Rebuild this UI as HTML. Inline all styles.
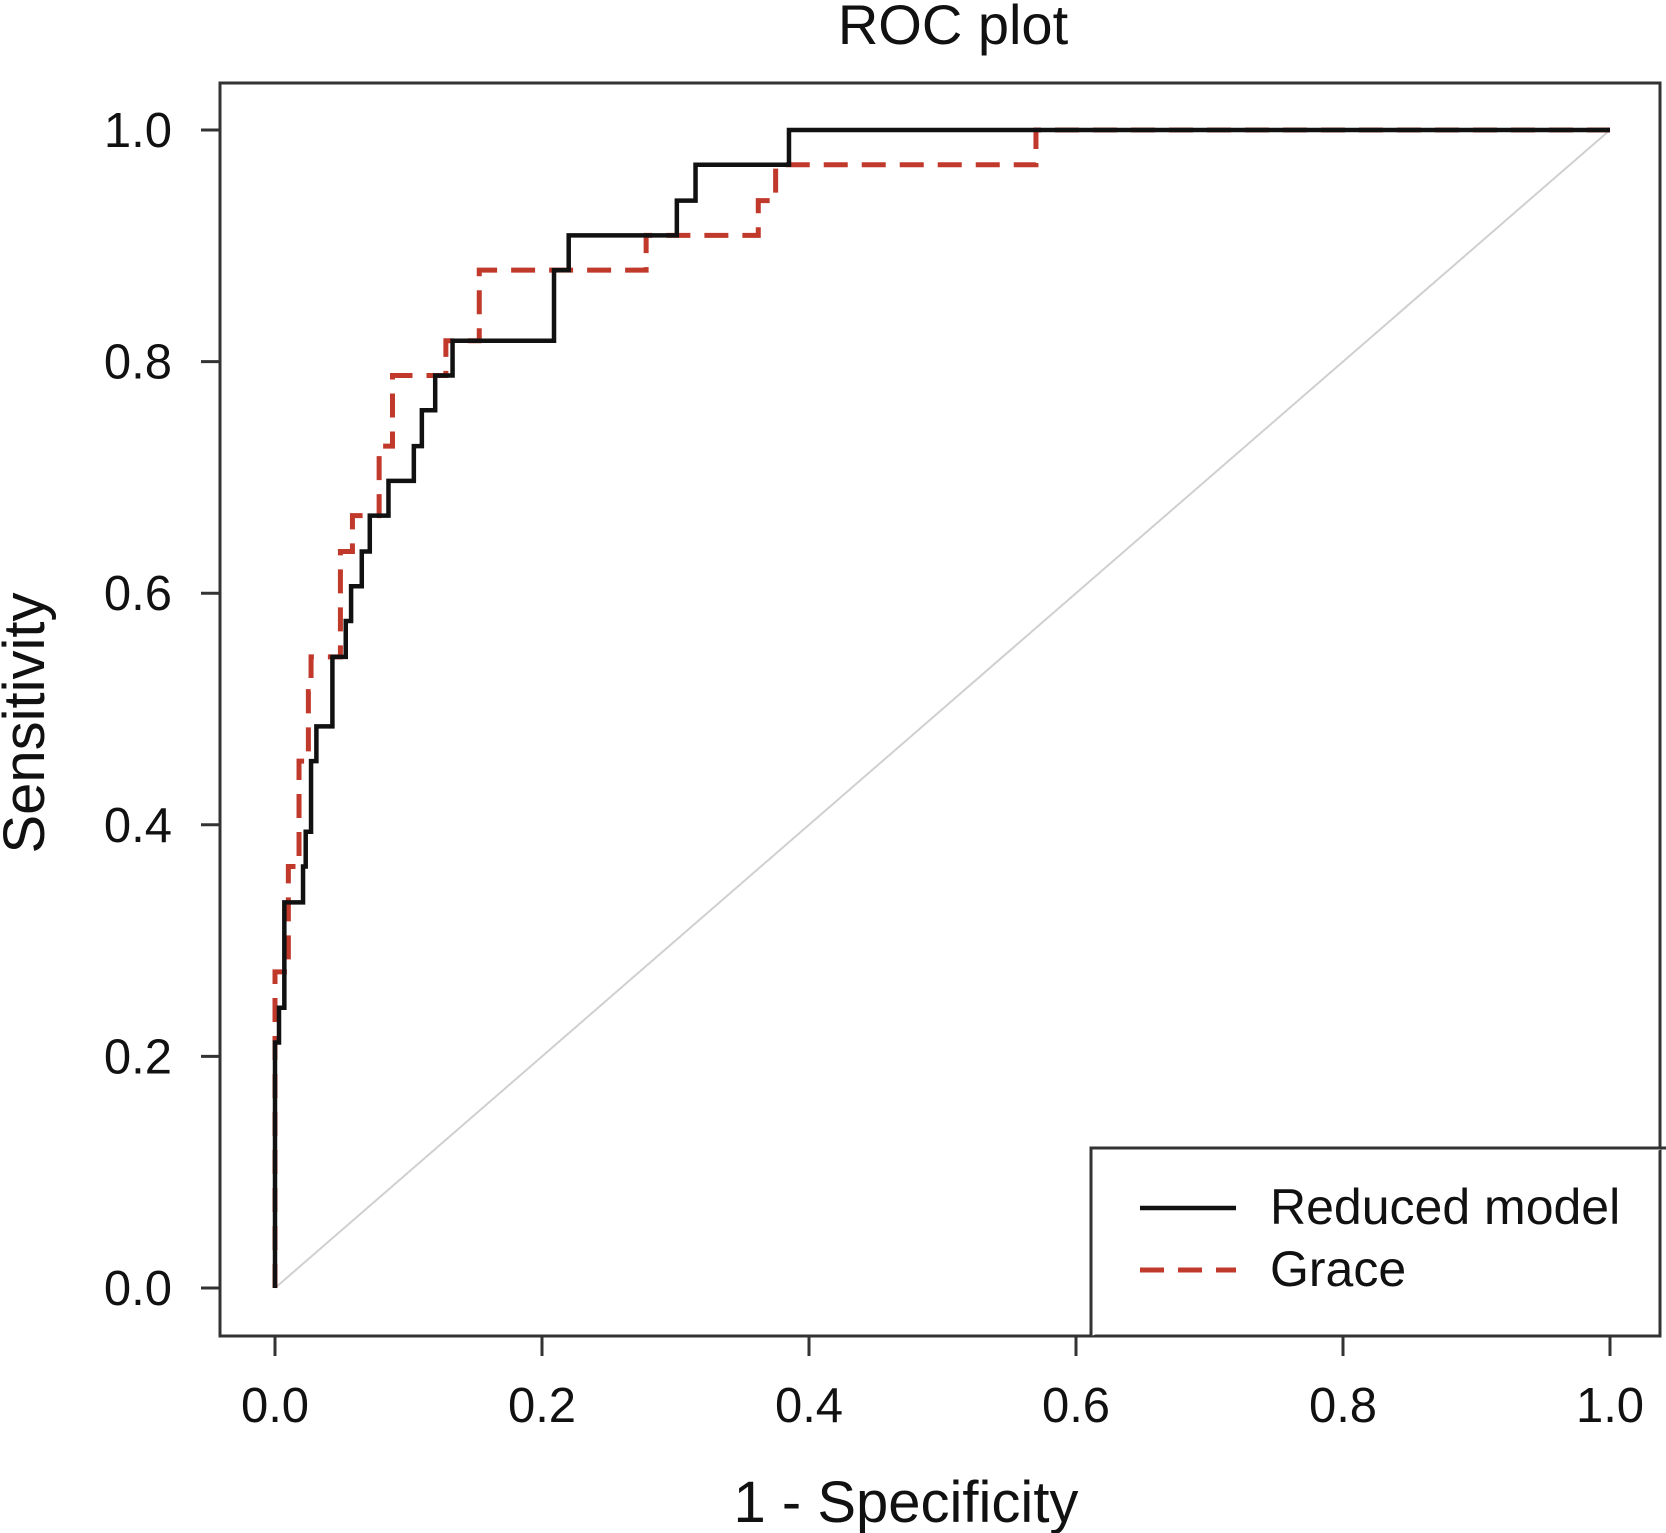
<!DOCTYPE html>
<html><head><meta charset="utf-8"><style>
html,body{margin:0;padding:0;background:#fff;}
svg{display:block;font-family:"Liberation Sans",Arial,sans-serif;}
</style></head><body>
<svg id="chart" width="1666" height="1533" viewBox="0 0 1666 1533">
<text x="953" y="44" font-size="56" text-anchor="middle" fill="#111">ROC plot</text>
<text x="906" y="1522" font-size="58" text-anchor="middle" fill="#111">1 - Specificity</text>
<text transform="translate(44,723) rotate(-90)" font-size="58" text-anchor="middle" fill="#111">Sensitivity</text>
<g id="ticks"></g>
<g id="marks"></g>
<rect x="220" y="83" width="1440" height="1253" fill="none" stroke="#333" stroke-width="3"/>
<g>
<path d="M1091 1336 V1148 H1666" fill="#fff" stroke="#333" stroke-width="3"/>
<line x1="1140" y1="1208" x2="1236" y2="1208" stroke="#111" stroke-width="4.5"/>
<text x="1270" y="1224" font-size="50" fill="#111">Reduced model</text>
<line x1="1140" y1="1270" x2="1236" y2="1270" stroke="#c0392b" stroke-width="5" stroke-dasharray="24,14"/>
<text x="1270" y="1286" font-size="50" fill="#111">Grace</text>
</g>
</svg>
<script>
const xTicks = [0, 0.2, 0.4, 0.6, 0.8, 1.0];
const yTicks = [0, 0.2, 0.4, 0.6, 0.8, 1.0];
const tickLabels = ["0.0", "0.2", "0.4", "0.6", "0.8", "1.0"];
const reducedFpr = [0, 0, 0.003, 0.007, 0.021, 0.023, 0.027, 0.031, 0.043, 0.053, 0.057, 0.065, 0.071, 0.085, 0.104, 0.110, 0.120, 0.133, 0.209, 0.220, 0.301, 0.315, 0.385, 1.0];
const reducedTpr = [0, 0.212, 0.242, 0.333, 0.364, 0.394, 0.455, 0.485, 0.545, 0.576, 0.606, 0.636, 0.667, 0.697, 0.727, 0.758, 0.788, 0.818, 0.879, 0.909, 0.939, 0.970, 1.0, 1.0];
const graceFpr = [0, 0, 0.010, 0.018, 0.025, 0.027, 0.049, 0.058, 0.078, 0.088, 0.128, 0.153, 0.278, 0.362, 0.375, 0.570, 1.0];
const graceTpr = [0, 0.273, 0.364, 0.455, 0.515, 0.545, 0.636, 0.667, 0.727, 0.788, 0.818, 0.879, 0.909, 0.939, 0.970, 1.0, 1.0];

const NS = "http://www.w3.org/2000/svg";
const sx = v => 275 + v * 1335;
const sy = v => 1288 - v * 1158;
const ticksG = document.getElementById('ticks');
const marksG = document.getElementById('marks');
function mk(tag, attrs, parent) {
  const e = document.createElementNS(NS, tag);
  for (const k in attrs) e.setAttribute(k, attrs[k]);
  parent.appendChild(e);
  return e;
}
xTicks.forEach((v, i) => {
  const l = mk('line', {x1: sx(v), x2: sx(v), y1: 1336, y2: 1356, stroke: '#333', 'stroke-width': 3}, ticksG);
  
  
  const t = mk('text', {x: sx(v), y: 1422, 'font-size': 49, 'text-anchor': 'middle', fill: '#111'}, ticksG);
  t.textContent = tickLabels[i];
  
  
});
yTicks.forEach((v, i) => {
  const l = mk('line', {x1: 201, x2: 220, y1: sy(v), y2: sy(v), stroke: '#333', 'stroke-width': 3}, ticksG);
  
  
  const t = mk('text', {x: 172, y: sy(v) + 17, 'font-size': 49, 'text-anchor': 'end', fill: '#111'}, ticksG);
  t.textContent = tickLabels[i];
  
  
});
const diag = mk('line', {x1: sx(0), y1: sy(0), x2: sx(1), y2: sy(1), stroke: '#d0d0d0', 'stroke-width': 2}, marksG);


function stepPath(xs, ys) {
  let d = 'M' + sx(xs[0]) + ' ' + sy(ys[0]);
  for (let i = 1; i < xs.length; i++) {
    d += ' H' + sx(xs[i]) + ' V' + sy(ys[i]);
  }
  return d;
}
const g = mk('path', {d: stepPath(graceFpr, graceTpr), fill: 'none', stroke: '#c0392b', 'stroke-width': 5, 'stroke-dasharray': '24,14'}, marksG);


const r = mk('path', {d: stepPath(reducedFpr, reducedTpr), fill: 'none', stroke: '#111', 'stroke-width': 4.5}, marksG);


</script>
</body></html>
